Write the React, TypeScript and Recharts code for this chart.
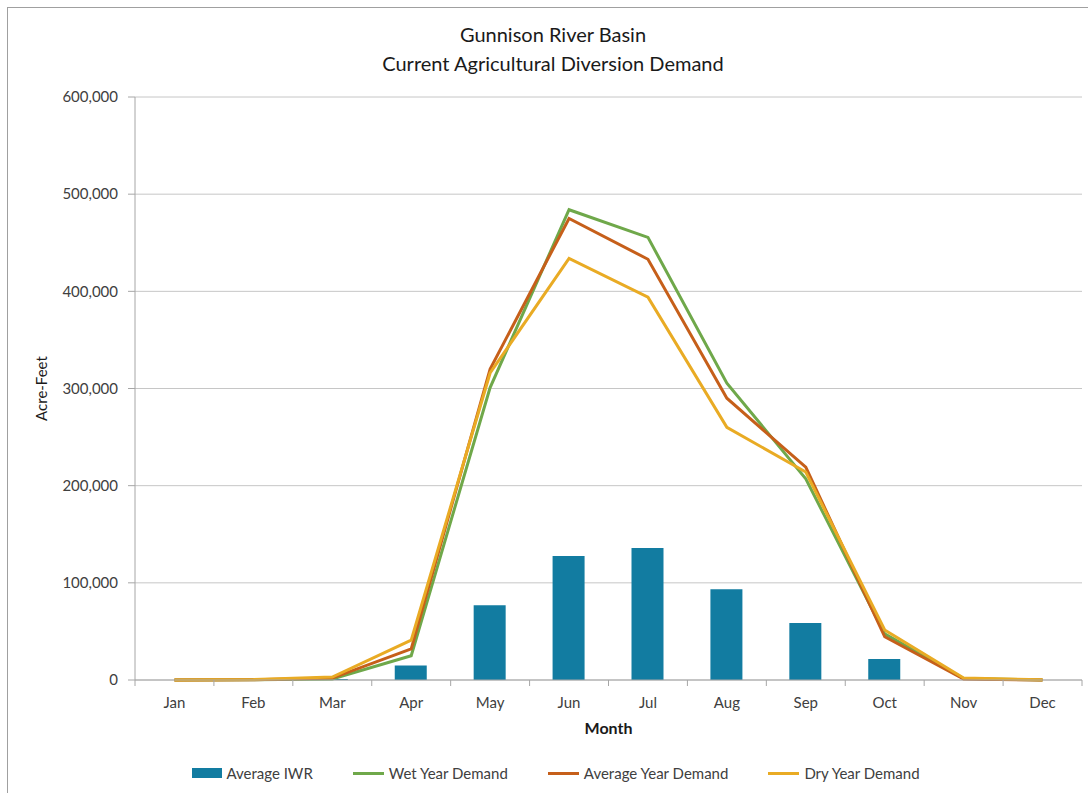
import React from 'react';
import { ComposedChart, Bar, Line, XAxis, YAxis, CartesianGrid, Label } from 'recharts';

const months = ['Jan', 'Feb', 'Mar', 'Apr', 'May', 'Jun', 'Jul', 'Aug', 'Sep', 'Oct', 'Nov', 'Dec'];
const averageIwr = [0, 0, 1000, 15000, 77000, 127500, 135800, 93500, 58700, 21600, 0, 0];
const wetYear = [0, 300, 1000, 25000, 301000, 484000, 455500, 305500, 207000, 47500, 1500, 0];
const averageYear = [0, 300, 2000, 32000, 320000, 475000, 433000, 290000, 219000, 44500, 1000, 0];
const dryYear = [0, 500, 3000, 41000, 316000, 434000, 394000, 260000, 214000, 51500, 2000, 300];
const yTicks = [0, 100000, 200000, 300000, 400000, 500000, 600000];

const data = months.map((m, i) => ({
  month: m,
  iwr: averageIwr[i],
  wet: wetYear[i],
  avg: averageYear[i],
  dry: dryYear[i],
}));

const FONT = 'Lato, "Open Sans", sans-serif';
const TEXT = '#404040';
const AXIS = '#a6a6a6';
const GRID = '#c6c6c6';

const series = [
  { key: 'wet', name: 'Wet Year Demand', color: '#6fa84a' },
  { key: 'avg', name: 'Average Year Demand', color: '#c65f1a' },
  { key: 'dry', name: 'Dry Year Demand', color: '#e9ab24' },
];
const BAR_COLOR = '#127ca1';

// month label centred in its band, with Excel-style tick marks on the band edges
const MonthTick = (props: any) => {
  const { x, y, payload, index, width, visibleTicksCount } = props;
  const band = width / visibleTicksCount;
  const axisY = y - 17;
  return (
    <g>
      <line x1={x - band / 2} x2={x - band / 2} y1={axisY} y2={axisY + 6} stroke={AXIS} />
      {index === visibleTicksCount - 1 && (
        <line x1={x + band / 2} x2={x + band / 2} y1={axisY} y2={axisY + 6} stroke={AXIS} />
      )}
      <text x={x} y={y} dy="0.71em" textAnchor="middle" fill={TEXT} fontSize={15} fontFamily={FONT}>
        {payload.value}
      </text>
    </g>
  );
};

const Legend = () => (
  <div
    style={{
      position: 'absolute',
      left: 0,
      top: 764,
      width: 1088,
      display: 'flex',
      justifyContent: 'center',
      gap: 40,
      fontFamily: FONT,
      fontSize: 15,
      color: TEXT,
      paddingLeft: 24,
      boxSizing: 'border-box',
    }}
  >
    <div style={{ display: 'flex', alignItems: 'center', gap: 4 }}>
      <span style={{ width: 30, height: 10, background: BAR_COLOR, display: 'inline-block' }} />
      Average IWR
    </div>
    {series.map((s) => (
      <div key={s.key} style={{ display: 'flex', alignItems: 'center', gap: 5 }}>
        <span style={{ width: 31, height: 3, background: s.color, display: 'inline-block' }} />
        {s.name}
      </div>
    ))}
  </div>
);

export default function App() {
  return (
    <div style={{ position: 'absolute', left: 0, top: 0, width: 1088, height: 793, background: '#fff', overflow: 'hidden' }}>
      <div
        style={{
          position: 'absolute',
          left: 7,
          top: 7,
          width: 1081,
          height: 786,
          borderLeft: '1.5px solid #a0a0a0',
          borderTop: '1.5px solid #a0a0a0',
          boxSizing: 'border-box',
        }}
      />
      <div
        style={{
          position: 'absolute',
          left: 0,
          top: 20,
          width: 1106,
          textAlign: 'center',
          fontFamily: FONT,
          fontSize: 20,
          lineHeight: '29px',
          color: '#1a1a1a',
        }}
      >
        Gunnison River Basin
        <br />
        Current Agricultural Diversion Demand
      </div>
      <ComposedChart
        width={1088}
        height={793}
        data={data}
        margin={{ top: 97, right: 6, bottom: 53, left: 0 }}
        style={{ position: 'absolute', left: 0, top: 0 }}
      >
        <CartesianGrid vertical={false} stroke={GRID} strokeWidth={1} />
        <XAxis
          dataKey="month"
          tickLine={false}
          axisLine={{ stroke: AXIS }}
          tick={<MonthTick />}
          tickSize={6}
          tickMargin={11}
          height={60}
          interval={0}
        >
          <Label
            content={({ viewBox }: any) => (
              <text
                x={viewBox.x + viewBox.width / 2}
                y={viewBox.y + 54}
                textAnchor="middle"
                fontFamily={FONT}
                fontSize={16}
                fontWeight={700}
                fill="#1a1a1a"
              >
                Month
              </text>
            )}
          />
        </XAxis>
        <YAxis
          width={135}
          domain={[0, 600000]}
          ticks={yTicks}
          tickFormatter={(v: number) => v.toLocaleString('en-US')}
          tick={{ fill: TEXT, fontSize: 15, fontFamily: FONT }}
          tickLine={{ stroke: AXIS }}
          tickSize={7}
          tickMargin={10}
          axisLine={{ stroke: AXIS }}
        >
          <Label
            content={({ viewBox }: any) => (
              <text
                x={41}
                y={viewBox.y + viewBox.height / 2}
                transform={`rotate(-90, 41, ${viewBox.y + viewBox.height / 2})`}
                textAnchor="middle"
                dominantBaseline="central"
                fontFamily={FONT}
                fontSize={15}
                fill="#1a1a1a"
              >
                Acre-Feet
              </text>
            )}
          />
        </YAxis>
        <Bar dataKey="iwr" name="Average IWR" fill={BAR_COLOR} barSize={32} isAnimationActive={false} />
        {series.map((s) => (
          <Line
            key={s.key}
            type="linear"
            dataKey={s.key}
            name={s.name}
            stroke={s.color}
            strokeWidth={3}
            dot={false}
            activeDot={false}
            isAnimationActive={false}
          />
        ))}
      </ComposedChart>
      <Legend />
    </div>
  );
}
